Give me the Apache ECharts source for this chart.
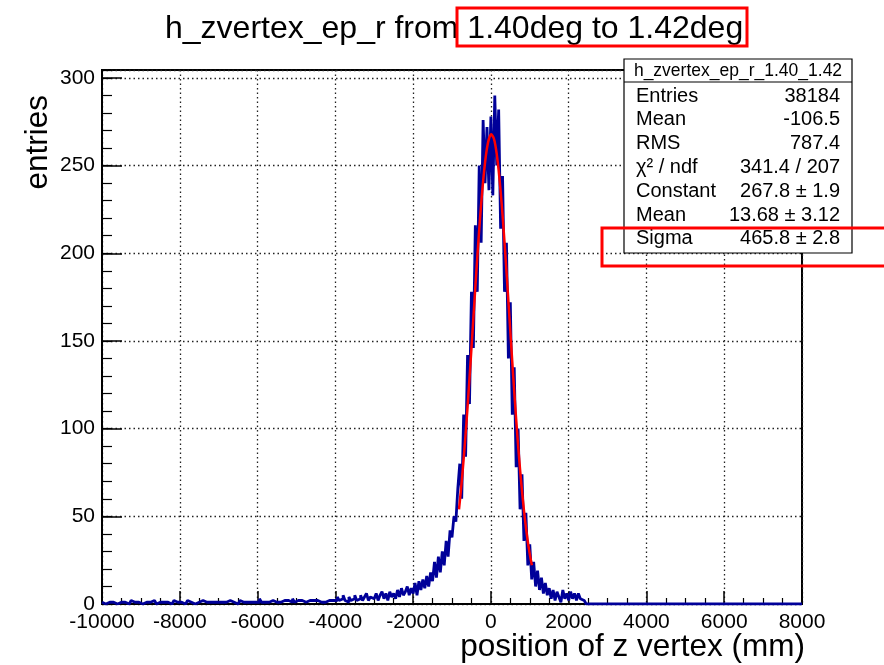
<!DOCTYPE html>
<html><head><meta charset="utf-8">
<script src="https://cdn.jsdelivr.net/npm/echarts@6/dist/echarts.min.js"></script>
<style>html,body{margin:0;padding:0;background:#fff}#c{width:884px;height:665px}</style>
</head><body><div id="c"></div>
<script>
// ---- histogram data (entries per bin), bins of 50 mm from -10000 ----
const binStart = -10000;
const binWidth = 50;
const leftTail = [
  1,0,1,1,0,1,1,0,1,1, 0,1,1,0,1,2,1,0,1,1, 0,1,1,0,1,1,2,1,0,1, 1,1,0,1,1,0,1,2,1,1,
  1,1,0,1,2,1,1,0,1,1, 1,2,1,1,0,1,1,1,2,1, 1,1,0,1,1,2,1,1,1,0, 1,2,1,1,1,2,1,1,1,2,
  1,3,1,1,2,1,1,2,1,1, 2,1,1,2,1,2,1,1,3,1, 2,1,2,1,1,2,2,1,2,1, 2,2,1,2,1,2,2,1,2,2,
  2,4,2,3,5,2,1,4,2,3, 5,2,3,5,2,4,6,2,4,3
];
const core = [
  3,6,2,5,7,3,6,2,7,4,
  6,3,8,4,9,5,7,10,5,9,
  6,12,5,13,8,14,9,16,10,18,
  13,24,15,27,18,30,22,36,27,42,
  38,50,47,66,80,60,108,84,142,114,
  178,146,216,178,250,206,276,240,272,236,
  278,233,290,250,282,214,244,178,206,140,
  172,108,135,78,100,54,74,36,52,22,
  34,14,24,10,19,8,15,6,12,5,
  9,3,8,2,7,4,1,8,3,6,
  2,7,3,6,2,6,3,2,1,0
];
const rightTail = [
  0,0,0,0,0,0,0,0,0,0, 0,0,0,0,0,0,0,0,0,0, 0,0,0,0,0,0,0,0,0,0, 0,0,0,0,0,0,0,0,0,0,
  0,0,0,0,0,0,0,0,0,0, 0,0,0,0,0,0,0,0,0,0, 0,0,0,0,0,0,0,0,0,0, 0,0,0,0,0,0,0,0,0,0,
  0,0,0,0,0,0,0,0,0,0, 0,0,0,0,0,0,0,0,0,0, 0,0,0,0,0,0,0,0,0,0
];
// ---- gaussian fit curve, sampled values ----
const fitX = [-820,-775,-725,-675,-625,-575,-525,-475,-425,-375,-325,-275,-225,-175,-125,-75,-25,14,25,75,125,175,225,275,325,375,425,475,525,575,625,675,725,775,825,875,925,975,1025,1054];
const fitY = [54.0,63.9,76.2,89.8,104.6,120.5,137.2,154.4,171.9,189.1,205.6,221.0,234.9,246.7,256.2,263.0,266.9,267.8,267.7,265.5,260.3,252.2,241.6,228.8,214.2,198.2,181.4,164.0,146.6,129.6,113.2,97.7,83.5,70.4,58.8,48.5,39.5,31.8,25.4,22.1];
// ---- axes ----
const xMin = -10000, xMax = 8000, xStep = 2000;
const yMin = 0, yMax = 304.5, yStep = 50, yMinorStep = 10;
// ---- texts ----
const titleText = 'h_zvertex_ep_r from 1.40deg to 1.42deg';
const xTitle = 'position of z vertex (mm)';
const yTitle = 'entries';
const statsHeader = 'h_zvertex_ep_r_1.40_1.42';
const statsNames = ['Entries','Mean','RMS','\u03c7\u00b2 / ndf','Constant','Mean','Sigma'];
const statsValues = ['38184','-106.5','787.4','341.4 / 207','267.8 \u00b1 1.9','13.68 \u00b1 3.12','465.8 \u00b1 2.8'];

const counts = leftTail.concat(core, rightTail);
const histPts = counts.map((c, i) => [binStart + i * binWidth, c]);
histPts.push([binStart + counts.length * binWidth, counts[counts.length - 1]]);
const fitPts = fitX.map((x, i) => [x, fitY[i]]);

const FONT = 'Liberation Sans, Arial, Helvetica, sans-serif';
const chart = echarts.init(document.getElementById('c'), null, {renderer: 'canvas'});

const graphics = [
  {type: 'rect', z: 100, shape: {x: 457, y: 8, width: 290, height: 38}, style: {fill: 'none', stroke: '#ff0000', lineWidth: 3}},
  {type: 'text', z: 100, x: 805, y: 647, style: {text: xTitle, fill: '#000', font: '31.5px ' + FONT, textAlign: 'right', textVerticalAlign: 'middle'}},
  {type: 'text', z: 100, x: 38, y: 95, rotation: Math.PI / 2, style: {text: yTitle, fill: '#000', font: '31.5px ' + FONT, textAlign: 'right', textVerticalAlign: 'middle'}},
  {type: 'rect', z: 100, shape: {x: 624, y: 59, width: 228, height: 194}, style: {fill: '#fff', stroke: '#000', lineWidth: 1.2}},
  {type: 'line', z: 101, shape: {x1: 624, y1: 82, x2: 852, y2: 82}, style: {stroke: '#000', lineWidth: 1.2}},
  {type: 'text', z: 101, x: 738, y: 71, style: {text: statsHeader, fill: '#000', font: '17.5px ' + FONT, textAlign: 'center', textVerticalAlign: 'middle'}}
];
statsNames.forEach((n, i) => {
  graphics.push({type: 'text', z: 101, x: 636, y: 96 + i * 23.8, style: {text: n, fill: '#000', font: '20px ' + FONT, textAlign: 'left', textVerticalAlign: 'middle'}});
  graphics.push({type: 'text', z: 101, x: 840, y: 96 + i * 23.8, style: {text: statsValues[i], fill: '#000', font: '20px ' + FONT, textAlign: 'right', textVerticalAlign: 'middle'}});
});
graphics.push({type: 'rect', z: 102, shape: {x: 602, y: 228, width: 300, height: 38}, style: {fill: 'none', stroke: '#ff0000', lineWidth: 3}});

const option = {
  animation: false,
  backgroundColor: '#fff',
  textStyle: {fontFamily: FONT},
  title: {text: titleText, left: 165, top: 13, padding: 0,
    textStyle: {fontSize: 32, fontWeight: 'normal', color: '#000', fontFamily: FONT}},
  grid: {left: 102, right: 82, top: 70, bottom: 61, show: true, borderColor: '#000', borderWidth: 2, backgroundColor: 'transparent', containLabel: false, outerBoundsMode: 'none'},
  xAxis: {
    type: 'value', min: xMin, max: xMax, interval: xStep,
    axisLine: {show: true, onZero: false, lineStyle: {color: '#000', width: 2}},
    axisTick: {show: true, inside: true, length: 13, lineStyle: {color: '#000', width: 1.5}},
    minorTick: {show: true, splitNumber: 4, length: 6, lineStyle: {color: '#000', width: 1.2}},
    axisLabel: {color: '#000', fontSize: 21, margin: 8, fontFamily: FONT, formatter: v => String(v)},
    splitLine: {show: true, lineStyle: {color: '#222', width: 1.3, type: [1.5, 3]}},
    minorSplitLine: {show: false}
  },
  yAxis: [{
    type: 'value', min: yMin, max: yMax, interval: yStep,
    axisLine: {show: true, onZero: false, lineStyle: {color: '#000', width: 2}},
    axisTick: {show: true, inside: true, length: 20, lineStyle: {color: '#000', width: 1.5}},
    axisLabel: {color: '#000', fontSize: 21, margin: 7, fontFamily: FONT, showMaxLabel: false, formatter: v => String(v)},
    splitLine: {show: true, lineStyle: {color: '#222', width: 1.3, type: [1.5, 3]}}
  }, {
    type: 'value', min: yMin, max: yMax, interval: yMinorStep, position: 'left', offset: 0,
    axisLine: {show: false, onZero: false},
    axisTick: {show: true, inside: true, length: 10, lineStyle: {color: '#000', width: 1.2}},
    axisLabel: {show: false},
    splitLine: {show: false}
  }],
  series: [{
    type: 'line', name: 'h_zvertex_ep_r', data: histPts, step: 'end', symbol: 'none',
    lineStyle: {color: '#000099', width: 2.8}, itemStyle: {color: '#000099'}, z: 3
  }, {
    type: 'line', name: 'fit', data: fitPts, smooth: 0.4, symbol: 'none',
    lineStyle: {color: '#ff0000', width: 2.5}, itemStyle: {color: '#ff0000'}, z: 4
  }],
  graphic: graphics
};
chart.setOption(option);
</script></body></html>
